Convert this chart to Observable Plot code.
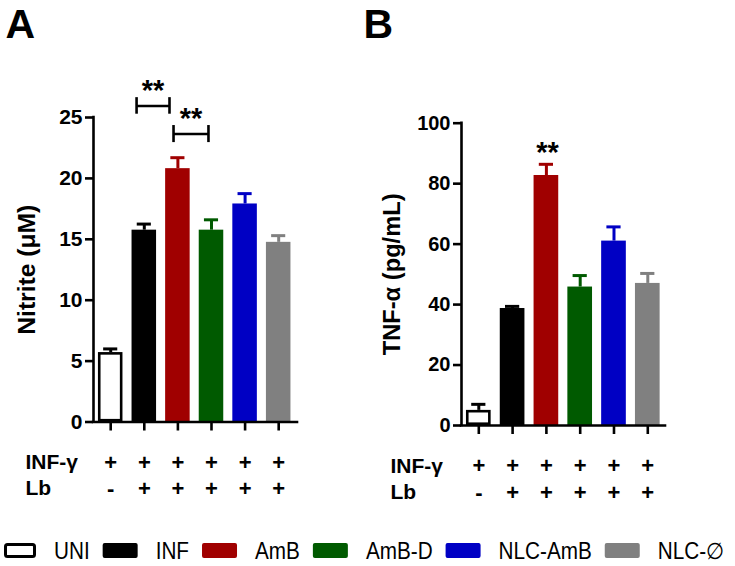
<!DOCTYPE html>
<html>
<head>
<meta charset="utf-8">
<script src="https://cdn.jsdelivr.net/npm/d3@7"></script>
<script src="https://cdn.jsdelivr.net/npm/@observablehq/plot@0.6"></script>
<style>
  html, body { margin: 0; padding: 0; background: #fff; }
  #wrap { position: relative; width: 735px; height: 566px; font-family: "Liberation Sans", Arial, sans-serif; }
  .panel { position: absolute; top: 0; }
  .panel svg { overflow: visible; }
  #legend { position: absolute; left: 0; top: 530px; }
</style>
</head>
<body>
<div id="wrap"></div>
<script>
// ---- data ----
const groups = ["UNI", "INF", "AmB", "AmB-D", "NLC-AmB", "NLC-∅"];
const fills = ["#ffffff", "#000000", "#a00000", "#005a00", "#0000c4", "#808080"];
const lines = ["#000000", "#000000", "#a00000", "#005a00", "#0000c4", "#808080"];
const nitrite = [5.7, 15.75, 20.8, 15.75, 17.9, 14.75];
const nitriteErr = [0.3, 0.5, 0.9, 0.85, 0.85, 0.55];
const tnf = [5.0, 38.7, 82.7, 45.8, 61.0, 47.0];
const tnfErr = [2.0, 0.7, 3.7, 3.8, 4.7, 3.3];
const infGammaRow = ["+", "+", "+", "+", "+", "+"];
const lbRow = ["-", "+", "+", "+", "+", "+"];
const rowLabels = ["INF-γ", "Lb"];
const nitriteTicks = [0, 5, 10, 15, 20, 25];
const tnfTicks = [0, 20, 40, 60, 80, 100];
// significance brackets (x in group-index units, y in data units)
const nitriteBrackets = [
  {x1: 0.77, x2: 1.75, y: 25.95, h: 0.68, label: "**", ly: 26.4},
  {x1: 1.87, x2: 2.91, y: 23.64, h: 0.7, label: "**", ly: 24.1}
];
const tnfStars = [{x: 2.03, y: 87.1, label: "**"}];

const FONT = "Liberation Sans, Arial, Helvetica, sans-serif";

function makeRows(values, errs) {
  return groups.map((g, i) => ({i, g, value: values[i], err: errs[i], fill: fills[i], line: lines[i]}));
}

function panel(cfg) {
  const rows = makeRows(cfg.values, cfg.errs);
  const hw = 0.365, cap = 0.21;
  const marks = [
    Plot.ruleX(rows, {x: "i", y1: "value", y2: d => d.value + d.err, stroke: "line", strokeWidth: 3}),
    Plot.ruleY(rows, {x1: d => d.i - cap, x2: d => d.i + cap, y: d => d.value + d.err, stroke: "line", strokeWidth: 3}),
    Plot.rect(rows.filter(d => d.i > 0), {x1: d => d.i - hw, x2: d => d.i + hw, y1: 0, y2: "value", fill: "fill"}),
    Plot.rect(rows.filter(d => d.i === 0), {x1: d => d.i - hw, x2: d => d.i + hw, y1: 0, y2: "value", fill: "#fff", stroke: "#000", strokeWidth: 2.6, inset: 1.3}),
    Plot.ruleY([0], {strokeWidth: 2.6, strokeLinecap: "square"}),
    Plot.ruleX([cfg.xDomain[0]], {strokeWidth: 2.6, strokeLinecap: "square"}),
    Plot.axisY({ticks: cfg.ticks, tickSize: 8, tickPadding: 3, strokeWidth: 2.6, fontSize: cfg.tickFont, fontWeight: "bold", label: null}),
    Plot.axisX({ticks: rows.map(d => d.i), tickSize: 9, tickFormat: () => "", strokeWidth: 2.6, label: null}),
    Plot.text([cfg.title], {frameAnchor: "left", rotate: -90, dx: cfg.titleDx, text: d => d, fontSize: 23, fontWeight: "bold", lineAnchor: "middle", textAnchor: "middle"}),
    Plot.text([cfg.letter], {frameAnchor: "top-left", dx: cfg.letterDx, dy: cfg.letterDy, text: d => d, fontSize: 41, fontWeight: "bold", textAnchor: "start", lineAnchor: "bottom"}),
    Plot.text(rows, {x: "i", frameAnchor: "bottom", dy: cfg.row1Dy, text: d => infGammaRow[d.i], fontSize: 22, fontWeight: "bold", lineAnchor: "middle"}),
    Plot.text(rows, {x: "i", frameAnchor: "bottom", dy: cfg.row2Dy, text: d => lbRow[d.i], fontSize: 22, fontWeight: "bold", lineAnchor: "middle"}),
    Plot.text([rowLabels[0]], {frameAnchor: "bottom-left", dx: cfg.rowDx, dy: cfg.row1Dy, text: d => d, fontSize: 21, fontWeight: "bold", textAnchor: "start", lineAnchor: "middle"}),
    Plot.text([rowLabels[1]], {frameAnchor: "bottom-left", dx: cfg.rowDx, dy: cfg.row2Dy, text: d => d, fontSize: 21, fontWeight: "bold", textAnchor: "start", lineAnchor: "middle"}),
    ...cfg.extra
  ];
  const svg = Plot.plot({
    width: cfg.width, height: cfg.height,
    marginLeft: cfg.ml, marginRight: cfg.mr, marginTop: cfg.mt, marginBottom: cfg.mb,
    x: {type: "linear", domain: cfg.xDomain, axis: null},
    y: {domain: [0, cfg.ticks[cfg.ticks.length - 1]], axis: null},
    color: {type: "identity"},
    style: {fontFamily: FONT, color: "#000", background: "transparent", overflow: "visible"},
    marks
  });
  // stretch the axis title to the reference's length
  d3.select(svg).selectAll("text").filter(function () { return this.textContent === cfg.title; })
    .attr("textLength", cfg.titleLen).attr("lengthAdjust", "spacingAndGlyphs");
  return svg;
}

const bracketMarks = [
  Plot.ruleY(nitriteBrackets, {x1: "x1", x2: "x2", y: "y", strokeWidth: 2.6}),
  Plot.ruleX(nitriteBrackets, {x: "x1", y1: d => d.y - d.h, y2: d => d.y + d.h, strokeWidth: 2.6}),
  Plot.ruleX(nitriteBrackets, {x: "x2", y1: d => d.y - d.h, y2: d => d.y + d.h, strokeWidth: 2.6}),
  Plot.text(nitriteBrackets, {x: d => (d.x1 + d.x2) / 2, y: "ly", text: "label", fontSize: 29, fontWeight: "bold", lineAnchor: "bottom"})
];
const starMarks = [
  Plot.text(tnfStars, {x: "x", y: "y", text: "label", fontSize: 29, fontWeight: "bold", lineAnchor: "bottom"})
];

const wrap = document.getElementById("wrap");

const A = panel({
  values: nitrite, errs: nitriteErr, ticks: nitriteTicks, tickFont: 21,
  title: "Nitrite (μM)", titleLen: 130, letter: "A",
  width: 367, height: 520, ml: 93, mr: 70, mt: 117, mb: 98.5,
  xDomain: [-0.512, 5.56],
  titleDx: -66, letterDx: -88, letterDy: -80,
  row1Dy: 40.5, row2Dy: 66.5, rowDx: -68,
  extra: bracketMarks
});
const B = panel({
  values: tnf, errs: tnfErr, ticks: tnfTicks, tickFont: 20,
  title: "TNF-α (pg/mL)", titleLen: 162, letter: "B",
  width: 368, height: 520, ml: 94, mr: 70, mt: 122.7, mb: 95,
  xDomain: [-0.512, 5.524],
  titleDx: -68.5, letterDx: -98, letterDy: -85.5,
  row1Dy: 40.5, row2Dy: 67, rowDx: -71,
  extra: starMarks
});

const dA = document.createElement("div"); dA.className = "panel"; dA.style.left = "0px"; dA.appendChild(A);
const dB = document.createElement("div"); dB.className = "panel"; dB.style.left = "367px"; dB.appendChild(B);
wrap.appendChild(dA); wrap.appendChild(dB);

// ---- legend (condensed labels, laid out left to right) ----
const lg = d3.select(wrap).append("svg").attr("id", "legend")
  .attr("width", 735).attr("height", 36)
  .style("font-family", FONT);
const boxW = 35, boxH = 15, gapBox = 18, gapItem = 13, condense = 0.9, midY = 20.5;
let x = 4;
groups.forEach((g, i) => {
  const sw = i === 0 ? 1.5 : 0;
  lg.append("rect")
    .attr("x", x + sw).attr("y", midY - boxH / 2 + sw)
    .attr("width", (i === 0 ? 32 : boxW) - 2 * sw).attr("height", boxH - 2 * sw)
    .attr("rx", 2)
    .attr("fill", fills[i])
    .attr("stroke", i === 0 ? "#000" : "none").attr("stroke-width", 3);
  x += (i === 0 ? 32 : boxW) + gapBox;
  const t = lg.append("text")
    .attr("x", x).attr("y", midY + 8.3)
    .attr("font-size", 23).attr("fill", "#000")
    .text(g);
  const w = t.node().getComputedTextLength() * condense;
  t.attr("textLength", w).attr("lengthAdjust", "spacingAndGlyphs");
  x += w + gapItem;
});
</script>
</body>
</html>
